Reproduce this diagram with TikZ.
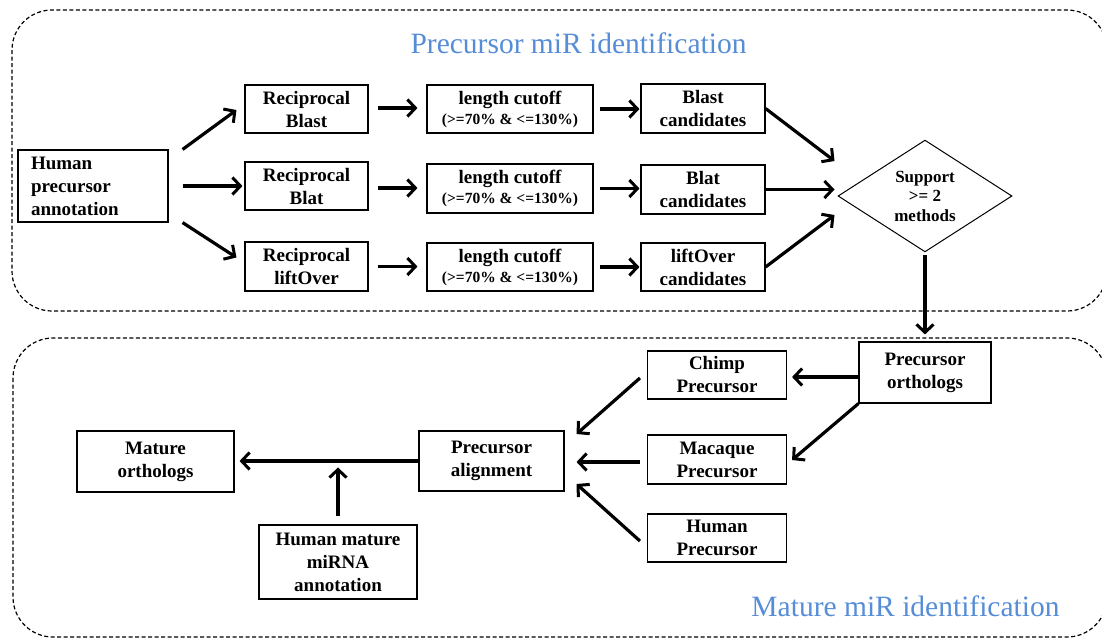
\documentclass[tikz,border=0pt]{standalone}
\usepackage{fontspec}
\setmainfont{Liberation Serif}
\usetikzlibrary{arrows.meta,shapes.geometric,calc}
\definecolor{titleblue}{RGB}{86,141,214}
\begin{document}
\begin{tikzpicture}[x=1pt,y=-1pt,
  box/.style={draw=black,line width=1.1pt,inner sep=0pt,align=center,font=\fontsize{19}{23}\selectfont\bfseries},
  arr/.style={line width=3.2pt,line cap=butt,-{Straight Barb[length=8pt,width=17pt,line width=3pt]}},
  region/.style={draw=black,line width=1.2pt,dash pattern=on 4pt off 2.5pt,rounded corners=40pt},
  titletext/.style={text=titleblue,font=\fontsize{29.5}{32}\selectfont,anchor=base,inner sep=0pt}]
\useasboundingbox (0,0) rectangle (1102,637);
\draw[region] (12,10) rectangle (1107,311);
\draw[region] (13,338) rectangle (1107,637);
\node[titletext] (t1) at (578.5,53) {Precursor miR identification};
\node[titletext] (t2) at (905.5,616) {Mature miR identification};
% top part
\node[box,minimum width=150pt,minimum height=72pt,text width=124pt,align=left,inner xsep=13pt] (hpa) at (93,186) {Human\\precursor\\annotation};
\node[box,minimum width=123pt,minimum height=48pt] (recipB) at (306.5,109) {Reciprocal\\Blast};
\node[box,minimum width=123pt,minimum height=48pt] (recipBt) at (306.5,186) {Reciprocal\\Blat};
\node[box,minimum width=123pt,minimum height=49pt] (recipL) at (306.5,266.5) {Reciprocal\\liftOver};
\node[box,minimum width=166pt,minimum height=48pt] (len1) at (510,109) {length cutoff\\[-3pt]{\fontsize{15.5}{18}\selectfont(>=70\% \& <=130\%)}};
\node[box,minimum width=166pt,minimum height=49pt] (len2) at (510,188.5) {length cutoff\\[-3pt]{\fontsize{15.5}{18}\selectfont(>=70\% \& <=130\%)}};
\node[box,minimum width=166pt,minimum height=48pt] (len3) at (510,267) {length cutoff\\[-3pt]{\fontsize{15.5}{18}\selectfont(>=70\% \& <=130\%)}};
\node[box,minimum width=124pt,minimum height=49pt] (candB) at (703,108.5) {Blast\\candidates};
\node[box,minimum width=124pt,minimum height=49pt] (candBt) at (703,189.5) {Blat\\candidates};
\node[box,minimum width=124pt,minimum height=48pt] (candL) at (703,267) {liftOver\\candidates};
\node[draw=black,line width=1pt,shape=diamond,minimum width=174pt,minimum height=92pt,inner sep=0pt,align=center,font=\fontsize{17}{19.5}\selectfont\bfseries] (dia) at (925,196) {Support\\>= 2\\methods};
% bottom part
\node[box,minimum width=132pt,minimum height=61pt] (PO) at (925,372.5) {Precursor\\orthologs};
\node[box,minimum width=139pt,minimum height=48pt] (chimp) at (717,375) {Chimp\\Precursor};
\node[box,minimum width=139pt,minimum height=49pt] (mac) at (717,459.5) {Macaque\\Precursor};
\node[box,minimum width=139pt,minimum height=48pt] (humP) at (717,538) {Human\\Precursor};
\node[box,minimum width=145pt,minimum height=60pt] (PA) at (491.5,461) {Precursor\\alignment};
\node[box,minimum width=157pt,minimum height=61pt] (MO) at (155.5,461.5) {Mature\\orthologs};
\node[box,minimum width=158pt,minimum height=74pt] (HMA) at (338,562) {Human mature\\miRNA\\annotation};
% connectors top
\draw[arr] ($(hpa.north east)+(14,0)$) -- ($(recipB.west)+(-8,1)$);
\draw[arr] ($(hpa.east)+(14,0)$) -- ($(recipBt.west)+(-2,0)$);
\draw[arr] ($(hpa.south east)+(14,0)$) -- ($(recipL.west)+(-8,-9)$);
\draw[arr] ($(recipB.east)+(9,-1)$) -- ($(len1.west)+(-9,-1)$);
\draw[arr] ($(recipBt.east)+(9,2)$) -- ($(len2.west)+(-9,-0.5)$);
\draw[arr] ($(recipL.east)+(9,0)$) -- ($(len3.west)+(-9,-0.5)$);
\draw[arr] ($(len1.east)+(6,0)$) -- ($(candB.west)+(-1,0.5)$);
\draw[arr] ($(len2.east)+(6,0)$) -- ($(candBt.west)+(-1,-1)$);
\draw[arr] ($(len3.east)+(6,0)$) -- ($(candL.west)+(-1,0)$);
\draw[arr] (candB.east) -- ($(dia.west)+(-3,-35)$);
\draw[arr] (candBt.east) -- ($(dia.west)+(-3,-6.5)$);
\draw[arr] (candL.east) -- ($(dia.west)+(-3,19)$);
\draw[arr] ($(dia.south)+(0,3)$) -- ($(PO.north)+(0,-7)$);
% connectors bottom
\draw[arr] ($(PO.west)+(0,4.5)$) -- ($(chimp.east)+(5,2)$);
\draw[arr] (PO.south west) -- ($(mac.east)+(5,0.5)$);
\draw[arr] ($(chimp.west)+(-7,3)$) -- ($(PA.east)+(12,-27)$);
\draw[arr] ($(mac.west)+(-7,2.5)$) -- ($(PA.east)+(12,1)$);
\draw[arr] ($(humP.west)+(-7,3)$) -- ($(PA.east)+(12,23)$);
\draw[arr] (PA.west) -- ($(MO.east)+(5,-0.5)$);
\draw[arr] ($(HMA.north)+(0,-8)$) -- ($(HMA.north |- MO.east)+(0,6)$);
\end{tikzpicture}
\end{document}
